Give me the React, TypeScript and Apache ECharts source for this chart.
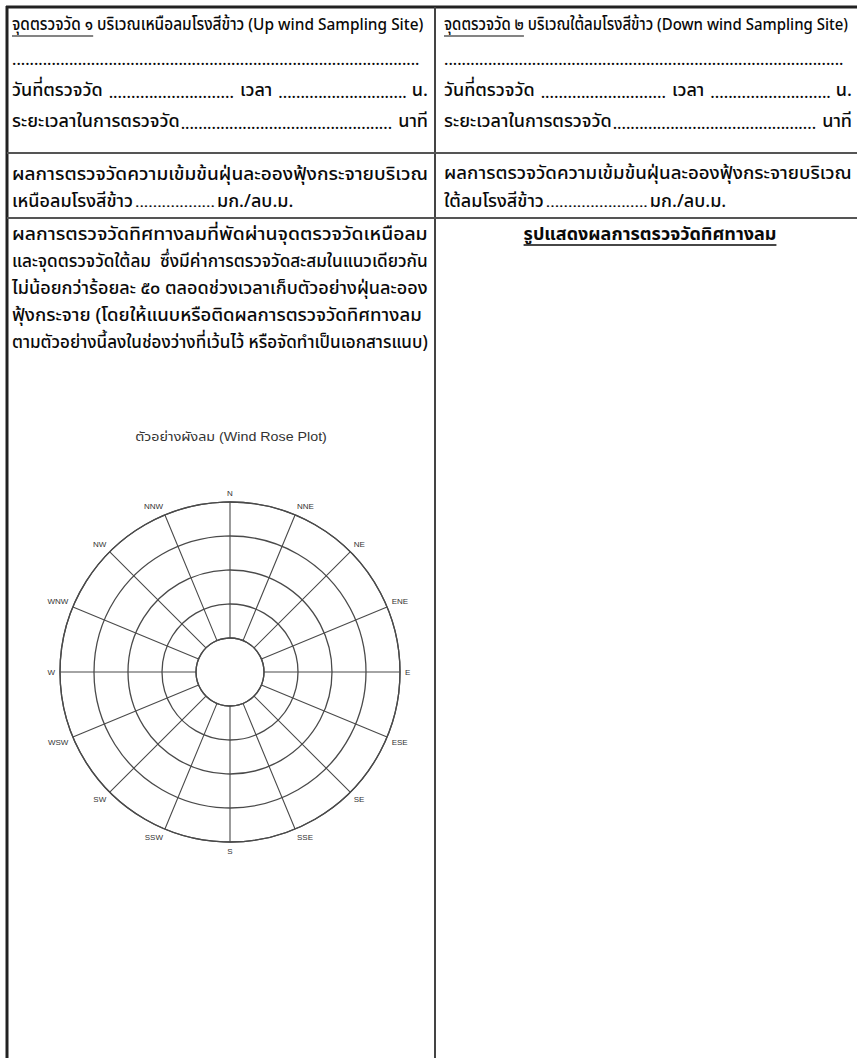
import React, { useEffect, useRef } from "react";
import * as echarts from "echarts";

const W = 857;
const H = 1058;

// Wind rose template axes
const directions = ["N", "NNE", "NE", "ENE", "E", "ESE", "SE", "SSE", "S", "SSW", "SW", "WSW", "W", "WNW", "NW", "NNW"];
const angleStep = 22.5;
const ringMin = 0;
const ringMax = 4;
const ringStep = 1;

// Form texts
const headerUnderlined = ["จุดตรวจวัด ๑", "จุดตรวจวัด ๒"];
const headerRest = [" บริเวณเหนือลมโรงสีข้าว (Up wind Sampling Site)", " บริเวณใต้ลมโรงสีข้าว (Down wind Sampling Site)"];
const dateLabel = "วันที่ตรวจวัด";
const timeLabel = "เวลา";
const hourUnit = "น.";
const durationLabel = "ระยะเวลาในการตรวจวัด";
const minuteUnit = "นาที";
const concLine1 = "ผลการตรวจวัดความเข้มข้นฝุ่นละอองฟุ้งกระจายบริเวณ";
const concLabels = ["เหนือลมโรงสีข้าว", "ใต้ลมโรงสีข้าว"];
const concUnit = "มก./ลบ.ม.";
const paragraphLines = [
  "ผลการตรวจวัดทิศทางลมที่พัดผ่านจุดตรวจวัดเหนือลม",
  "และจุดตรวจวัดใต้ลม  ซึ่งมีค่าการตรวจวัดสะสมในแนวเดียวกัน",
  "ไม่น้อยกว่าร้อยละ ๕๐ ตลอดช่วงเวลาเก็บตัวอย่างฝุ่นละออง",
  "ฟุ้งกระจาย (โดยให้แนบหรือติดผลการตรวจวัดทิศทางลม",
  "ตามตัวอย่างนี้ลงในช่องว่างที่เว้นไว้ หรือจัดทำเป็นเอกสารแนบ)",
];
const rightCaption = "รูปแสดงผลการตรวจวัดทิศทางลม";
const roseTitle = "ตัวอย่างผังลม (Wind Rose Plot)";

const BODY = "'Noto Sans Thai', 'Noto Sans Thai UI', Loma, Garuda, Sarabun, 'Noto Sans', sans-serif";
const LATIN = "'Liberation Sans', Arial, 'Noto Sans Thai', Loma, sans-serif";

export default function App() {
  const ref = useRef<HTMLDivElement>(null);
  useEffect(() => {
    document.body.style.margin = "0";
    const el = ref.current!;
    const chart = echarts.init(el, null, { renderer: "svg" });

    const cvs = document.createElement("canvas");
    const ctx = cvs.getContext("2d")!;
    const tw = (t: string, size: number, fam: string, weight = "normal") => {
      ctx.font = `${weight} ${size}px ${fam}`;
      return ctx.measureText(t).width;
    };

    const g: any[] = [];
    const ink = "#0a0a0a";
    const BW = "500";
    const text = (t: string, x: number, y: number, size: number, opts: any = {}) => {
      const fam = opts.fam || BODY;
      const weight = opts.weight || BW;
      let scaleX = 1;
      if (opts.width) scaleX = opts.width / tw(t, size, fam, weight);
      const align = opts.align || "left";
      g.push({
        type: "text",
        x,
        y,
        scaleX,
        silent: true,
        style: {
          text: t,
          fontSize: size,
          fontFamily: fam,
          fontWeight: weight,
          fill: opts.fill || ink,
          align,
          textAlign: align,
          verticalAlign: "middle",
          textVerticalAlign: "middle",
        },
      });
      return tw(t, size, fam, weight) * scaleX;
    };
    const dots = (x1: number, x2: number, y: number, size = 16) => {
      const n = Math.max(1, Math.round((x2 - x1) / 4.4));
      text(".".repeat(n), x1, y, size, { width: x2 - x1 });
    };
    const line = (x1: number, y1: number, x2: number, y2: number, w: number, c: string) => {
      g.push({ type: "line", silent: true, shape: { x1, y1, x2, y2 }, style: { stroke: c, lineWidth: w } });
    };

    // borders
    line(6, 7, W, 7, 3, "#222");
    line(7, 6, 7, H, 3, "#222");
    line(435, 7, 435, H, 2, "#444");
    line(7, 153, W, 153, 2, "#555");
    line(7, 218, W, 218, 2, "#555");

    const cols = [
      { x0: 12, x1: 428 },
      { x0: 444, x1: 852 },
    ];
    const bodySize = 18;
    cols.forEach((c, i) => {
      const cw = c.x1 - c.x0;
      // header (condensed)
      const hSize = 17;
      const full = headerUnderlined[i] + headerRest[i];
      const natural = tw(full, hSize, BODY, BW);
      const sx = (cw - 4) / natural;
      text(full, c.x0, 25, hSize, { width: cw - 4 });
      const uw = tw(headerUnderlined[i], hSize, BODY, BW) * sx;
      line(c.x0, 36, c.x0 + uw, 36, 1.2, ink);
      // dotted row
      dots(c.x0, c.x1 - 8, 60);
      // date / time row
      const w1 = text(dateLabel, c.x0, 90, bodySize);
      const xT = c.x0 + 228;
      dots(c.x0 + w1 + 6, xT - 6, 93);
      const wT = text(timeLabel, xT, 90, bodySize);
      const wU = tw(hourUnit, bodySize, BODY, BW);
      dots(xT + wT + 6, c.x1 - wU - 5, 93);
      text(hourUnit, c.x1, 90, bodySize, { align: "right" });
      // duration row
      const w2 = text(durationLabel, c.x0, 121, bodySize);
      const wM = tw(minuteUnit, bodySize, BODY, BW);
      dots(c.x0 + w2 + 1, c.x1 - wM - 6, 124);
      text(minuteUnit, c.x1, 121, bodySize, { align: "right" });
      // concentration rows
      text(concLine1, c.x0, 174, bodySize, { width: cw });
      const w3 = text(concLabels[i], c.x0, 201, bodySize);
      const dotW = i === 0 ? 80 : 102;
      dots(c.x0 + w3 + 2, c.x0 + w3 + 2 + dotW, 203, 13);
      text(concUnit, c.x0 + w3 + 4 + dotW, 201, bodySize);
    });

    // paragraph (left column)
    const pw = [416, 416, 416, 410, 416];
    paragraphLines.forEach((t, k) => {
      text(t, 12, 234 + k * 27.2, bodySize, { width: pw[k] });
    });

    // right caption, bold + underline
    const capW = text(rightCaption, 650, 234, bodySize, { align: "center", weight: "bold" });
    line(650 - capW / 2, 245, 650 + capW / 2, 245, 1.3, ink);

    // wind rose title
    text(roseTitle, 231, 437, 12, { align: "center", fam: LATIN, fill: "#333", width: 192, weight: "normal" });

    chart.setOption({
      animation: false,
      graphic: { elements: g },
      polar: { center: [230, 672], radius: [34, 170] },
      angleAxis: {
        type: "value",
        min: 0,
        max: 360,
        interval: angleStep,
        startAngle: 90,
        clockwise: true,
        axisLine: { show: true, lineStyle: { color: "#4a4a4a", width: 1.3 } },
        axisTick: { show: false },
        axisLabel: {
          show: true,
          fontSize: 8,
          color: "#333",
          fontFamily: LATIN,
          margin: 5,
          formatter: (v: number) => (v >= 360 ? "" : directions[Math.round(v / angleStep) % directions.length]),
        },
        splitLine: { show: true, lineStyle: { color: "#4a4a4a", width: 1.1 } },
      },
      radiusAxis: {
        type: "value",
        min: ringMin,
        max: ringMax,
        interval: ringStep,
        axisLine: { show: false },
        axisTick: { show: false },
        axisLabel: { show: false },
        splitLine: { show: true, lineStyle: { color: "#4a4a4a", width: 1.3 } },
      },
      series: [{ type: "scatter", coordinateSystem: "polar", data: [] }],
    });

    return () => chart.dispose();
  }, []);
  return <div ref={ref} style={{ width: W, height: H, background: "#fff" }} />;
}
